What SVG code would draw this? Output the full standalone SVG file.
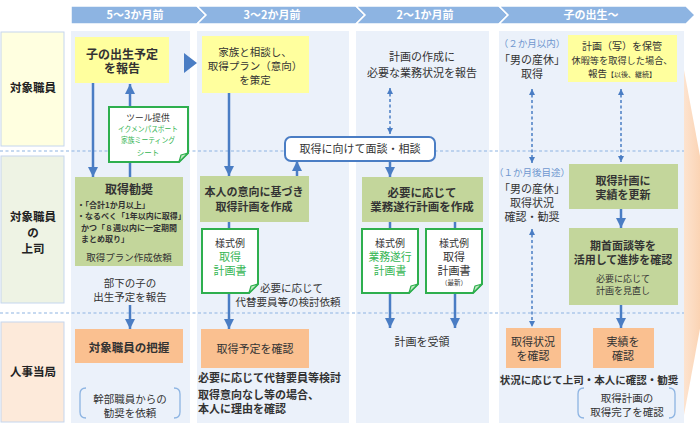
<svg xmlns="http://www.w3.org/2000/svg" width="700" height="428" viewBox="0 0 700 428">
<defs>
<style>
text{font-family:"Noto Sans CJK JP","Noto Sans",sans-serif;fill:#333;}
.hd{fill:#fff;font-size:11px;font-weight:bold;text-anchor:middle;}
.b{font-weight:bold;}
.m{text-anchor:middle;}
.lab{font-size:11.5px;font-weight:bold;text-anchor:middle;fill:#222;}
.panel{fill:#EBF1FA;}
.yel{fill:#FFFF9E;}
.grn{fill:#C3D69B;}
.org{fill:#FAC090;}
.note{fill:#fff;stroke:#2EAF4E;stroke-width:2;}
.fold{fill:#C6E8C6;stroke:#2EAF4E;stroke-width:1.2;stroke-linejoin:round;}
.gt{fill:#35B553;}
.bt{fill:#6F97CF;}
.con{stroke:#4A7DC4;stroke-width:2.5;fill:none;marker-end:url(#ah);}
.dsh{stroke:#4A7DC4;stroke-width:1.5;fill:none;stroke-dasharray:3 2.5;marker-end:url(#ahs);marker-start:url(#ahs);}
.sep{stroke:#8DB4E2;stroke-width:1.2;stroke-dasharray:3 2.5;fill:none;}
.brk{stroke:#8DB4E2;stroke-width:1.3;fill:none;}
</style>
<marker id="ah" viewBox="0 0 10 10" refX="10" refY="5" markerWidth="10" markerHeight="10" markerUnits="userSpaceOnUse" orient="auto-start-reverse"><path d="M0,0 L10,5 L0,10 z" fill="#4A7DC4"/></marker>
<marker id="ahs" viewBox="0 0 10 10" refX="10" refY="5" markerWidth="6" markerHeight="6" markerUnits="userSpaceOnUse" orient="auto-start-reverse"><path d="M0,0 L10,5 L0,10 z" fill="#4A7DC4"/></marker>
<linearGradient id="pg" x1="0" y1="0" x2="1" y2="0"><stop offset="0" stop-color="#FDE3CF"/><stop offset="1" stop-color="#F9C59A"/></linearGradient>
</defs>

<!-- header chevrons -->
<g id="header">
<polygon points="71,6 197,6 206,15 197,24 71,24" fill="#8DB4E2" stroke="#fff" stroke-width="1.5"/>
<polygon points="197,6 356,6 365,15 356,24 197,24 206,15" fill="#8DB4E2" stroke="#fff" stroke-width="1.5"/>
<polygon points="356,6 499,6 508,15 499,24 356,24 365,15" fill="#8DB4E2" stroke="#fff" stroke-width="1.5"/>
<polygon points="499,6 686,6 695,15 686,24 499,24 508,15" fill="#8DB4E2" stroke="#fff" stroke-width="1.5"/>
<text class="hd" x="135" y="19">5～3か月前</text>
<text class="hd" x="272" y="19">3～2か月前</text>
<text class="hd" x="425" y="19">2～1か月前</text>
<text class="hd" x="591" y="19">子の出生～</text>
</g>

<!-- background panels -->
<g id="panels">
<rect class="panel" x="71" y="31" width="119" height="392"/>
<rect class="panel" x="197" y="31" width="152" height="392"/>
<rect class="panel" x="356" y="31" width="133" height="392"/>
<rect class="panel" x="499" y="31" width="185" height="392"/>
<polygon points="684,70 716,242 684,415" fill="url(#pg)"/>
</g>

<!-- row labels -->
<g id="row-employee">
<rect x="1" y="32" width="63" height="114" fill="#FFFFE0" stroke="#C5D6EE" stroke-width="1"/>
<text class="lab" x="33" y="92">対象職員</text>
</g>
<g id="row-boss">
<rect x="1" y="156" width="63" height="147" fill="#EEF3E4" stroke="#C5D6EE" stroke-width="1"/>
<text class="lab" x="33" y="221">対象職員</text>
<text class="lab" x="33" y="237">の</text>
<text class="lab" x="33" y="253">上司</text>
</g>
<g id="row-hr">
<rect x="1" y="322" width="63" height="100" fill="#FDEADA" stroke="#C5D6EE" stroke-width="1"/>
<text class="lab" x="33" y="376">人事当局</text>
</g>

<!-- separators -->
<g id="separators">
<line class="sep" x1="0" y1="151" x2="684" y2="151"/>
<line class="sep" x1="0" y1="313" x2="684" y2="313"/>
</g>

<!-- connectors -->
<g id="connectors">
<line class="con" x1="93" y1="83" x2="93" y2="177"/>
<line class="con" x1="130" y1="177" x2="130" y2="84"/>
<line class="con" x1="130" y1="305" x2="130" y2="329"/>
<polygon points="184,53 197,63 184,73" fill="#4A7DC4"/>
<line class="con" x1="229" y1="93" x2="229" y2="176"/>
<line class="con" x1="229" y1="222" x2="229" y2="329"/>
<line class="con" x1="297" y1="176" x2="297" y2="161"/>
<line class="con" x1="390" y1="161" x2="390" y2="177"/>
<line class="con" x1="390" y1="222" x2="390" y2="328"/>
<line class="con" x1="455" y1="222" x2="455" y2="328"/>
<line class="dsh" x1="390" y1="88" x2="390" y2="134"/>
<line class="dsh" x1="532" y1="89" x2="532" y2="163"/>
<line class="dsh" x1="621" y1="89" x2="621" y2="162"/>
<line class="dsh" x1="532" y1="229" x2="532" y2="327"/>
<line class="con" x1="621" y1="209" x2="621" y2="228"/>
<line class="con" x1="621" y1="305" x2="621" y2="328"/>
</g>

<!-- column 1 -->
<g id="report-birth">
<rect class="yel" x="75" y="37" width="94" height="46"/>
<text class="b m" x="122" y="59" font-size="12">子の出生予定</text>
<text class="b m" x="122" y="73" font-size="12">を報告</text>
</g>
<g id="tool-note">
<path class="note" d="M109,107 H188 V153 L179,162 H109 Z"/>
<path class="fold" d="M188,153 L179,162 L181,155 Z"/>
<text class="m" x="148" y="121" font-size="8.7">ツール提供</text>
<text class="m gt" x="148" y="132" font-size="7.5" textLength="60" lengthAdjust="spacingAndGlyphs">イクメンパスポート</text>
<text class="m gt" x="148" y="143" font-size="7.5" textLength="54" lengthAdjust="spacingAndGlyphs">家族ミーティング</text>
<text class="m gt" x="148" y="156" font-size="7.5">シート</text>
</g>
<g id="recommend">
<rect class="grn" x="75" y="177" width="108" height="89"/>
<text class="b m" x="129" y="194" font-size="12">取得勧奨</text>
<text class="b" x="77" y="208" font-size="8">・「合計1か月以上」</text>
<text class="b" x="77" y="219" font-size="8">・なるべく「1年以内に取得」</text>
<text class="b" x="81" y="231" font-size="8">かつ「８週以内に一定期間</text>
<text class="b" x="81" y="242" font-size="8">まとめ取り」</text>
<text class="m" x="129" y="261" font-size="9.5">取得プラン作成依頼</text>
</g>
<g id="boss-report">
<text class="m" x="130" y="287" font-size="10.5">部下の子の</text>
<text class="m" x="130" y="301" font-size="10.5">出生予定を報告</text>
</g>
<g id="grasp">
<rect class="org" x="75" y="329" width="108" height="34"/>
<text class="b m" x="129" y="352" font-size="11.5">対象職員の把握</text>
</g>
<g id="exec-request">
<path class="brk" d="M86,388 Q80,388 80,394 V412 Q80,418 86,418"/>
<path class="brk" d="M174,388 Q180,388 180,394 V412 Q180,418 174,418"/>
<text class="m" x="130" y="403" font-size="10.5">幹部職員からの</text>
<text class="m" x="130" y="417" font-size="10.5">勧奨を依頼</text>
</g>

<!-- column 2 -->
<g id="family-plan">
<rect class="yel" x="202" y="36" width="107" height="57"/>
<text class="m" x="255" y="56" font-size="10.5">家族と相談し、</text>
<text class="m" x="255" y="70" font-size="10.5">取得プラン（意向）</text>
<text class="m" x="255" y="84" font-size="10.5">を策定</text>
</g>
<g id="interview">
<rect x="285" y="137" width="150" height="24" rx="6" fill="#fff" stroke="#4A7DC4" stroke-width="2"/>
<text class="m" x="360" y="153" font-size="11">取得に向けて面談・相談</text>
</g>
<g id="make-plan">
<rect class="grn" x="200" y="176" width="109" height="46"/>
<text class="b m" x="254" y="196" font-size="11">本人の意向に基づき</text>
<text class="b m" x="254" y="211" font-size="11">取得計画を作成</text>
</g>
<g id="note-plan">
<path class="note" d="M202,229 H258 V284 L249,293 H202 Z"/>
<path class="fold" d="M258,284 L249,293 L251,286 Z"/>
<text class="m" x="230" y="247" font-size="10">様式例</text>
<text class="m gt" x="230" y="261" font-size="11">取得</text>
<text class="m gt" x="230" y="275" font-size="11">計画書</text>
</g>
<g id="substitute-request">
<text x="260" y="292" font-size="10.5">必要に応じて</text>
<text class="m" x="288" y="306" font-size="10.5">代替要員等の検討依頼</text>
</g>
<g id="confirm-schedule">
<rect class="org" x="201" y="329" width="108" height="39"/>
<text class="m" x="255" y="353" font-size="11">取得予定を確認</text>
</g>
<g id="hr-notes">
<text class="b" x="198" y="382" font-size="11">必要に応じて代替要員等検討</text>
<text class="b" x="198" y="399" font-size="11">取得意向なし等の場合、</text>
<text class="b" x="198" y="413" font-size="11">本人に理由を確認</text>
</g>

<!-- column 3 -->
<g id="work-report">
<text class="m" x="422" y="61" font-size="11">計画の作成に</text>
<text class="m" x="422" y="77" font-size="11">必要な業務状況を報告</text>
</g>
<g id="work-plan">
<rect class="grn" x="362" y="177" width="121" height="45"/>
<text class="b m" x="422" y="197" font-size="11.5">必要に応じて</text>
<text class="b m" x="422" y="211" font-size="11.5">業務遂行計画を作成</text>
</g>
<g id="note-work">
<path class="note" d="M362,229 H418 V284 L409,293 H362 Z"/>
<path class="fold" d="M418,284 L409,293 L411,286 Z"/>
<text class="m" x="390" y="247" font-size="10">様式例</text>
<text class="m gt" x="390" y="261" font-size="10.8">業務遂行</text>
<text class="m gt" x="390" y="275" font-size="10.8">計画書</text>
</g>
<g id="note-plan-latest">
<path class="note" d="M426,229 H482 V284 L473,293 H426 Z"/>
<path class="fold" d="M482,284 L473,293 L475,286 Z"/>
<text class="m" x="454" y="247" font-size="10">様式例</text>
<text class="m" x="454" y="261" font-size="11">取得</text>
<text class="m" x="454" y="275" font-size="11">計画書</text>
<text class="m" x="454" y="285" font-size="6.5">（最新）</text>
</g>
<g id="receive">
<text class="m" x="422" y="346" font-size="11">計画を受領</text>
</g>

<!-- column 4 -->
<g id="take-leave">
<text class="m bt" x="532" y="47" font-size="9.5">（２か月以内）</text>
<text class="m" x="532" y="64" font-size="11">「男の産休」</text>
<text class="m" x="532" y="78" font-size="11">取得</text>
</g>
<g id="keep-copy">
<rect class="yel" x="568" y="35" width="109" height="47"/>
<text class="m" x="622" y="50" font-size="10">計画（写）を保管</text>
<text class="m" x="622" y="64" font-size="9.2">休暇等を取得した場合、</text>
<text class="m" x="622" y="77" font-size="9.5">報告<tspan font-size="7">【以後、継続】</tspan></text>
</g>
<g id="status-check">
<text class="m bt" x="532" y="176" font-size="9.5">（１か月後目途）</text>
<text class="m" x="532" y="193" font-size="11">「男の産休」</text>
<text class="m" x="532" y="207" font-size="11">取得状況</text>
<text class="m" x="532" y="221" font-size="11">確認・勧奨</text>
</g>
<g id="update-plan">
<rect class="grn" x="569" y="164" width="109" height="45"/>
<text class="b m" x="623" y="185" font-size="11">取得計画に</text>
<text class="b m" x="623" y="199" font-size="11">実績を更新</text>
</g>
<g id="progress">
<rect class="grn" x="569" y="228" width="109" height="77"/>
<text class="b m" x="623" y="250" font-size="11">期首面談等を</text>
<text class="b m" x="623" y="264" font-size="11">活用して進捗を確認</text>
<text class="m" x="623" y="282" font-size="9">必要に応じて</text>
<text class="m" x="623" y="294" font-size="9">計画を見直し</text>
</g>
<g id="hr-status">
<rect class="org" x="506" y="328" width="55" height="40"/>
<text class="m" x="533" y="346" font-size="11">取得状況</text>
<text class="m" x="533" y="360" font-size="11">を確認</text>
</g>
<g id="hr-results">
<rect class="org" x="593" y="328" width="61" height="40"/>
<text class="m" x="623" y="346" font-size="11">実績を</text>
<text class="m" x="623" y="360" font-size="11">確認</text>
</g>
<g id="hr-follow">
<text class="b m" x="589" y="384" font-size="10.5">状況に応じて上司・本人に確認・勧奨</text>
</g>
<g id="hr-complete">
<path class="brk" d="M584,388 Q578,388 578,394 V412 Q578,418 584,418"/>
<path class="brk" d="M669,388 Q675,388 675,394 V412 Q675,418 669,418"/>
<text class="m" x="627" y="402" font-size="10.5">取得計画の</text>
<text class="m" x="627" y="416" font-size="10.5">取得完了を確認</text>
</g>
</svg>
